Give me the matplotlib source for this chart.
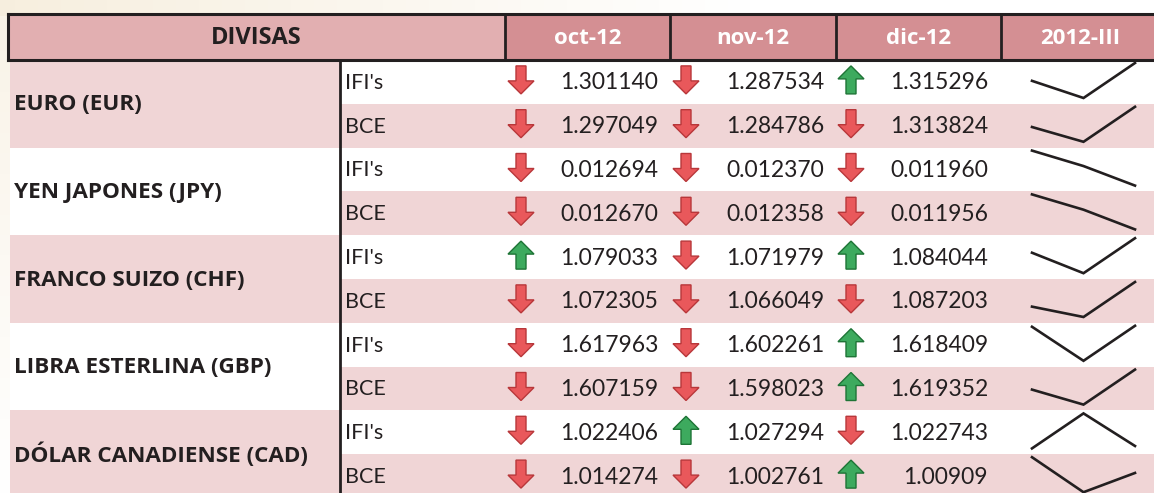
import numpy as np
import matplotlib
matplotlib.use("Agg")
from matplotlib import pyplot as plt
from matplotlib.patches import Rectangle, Polygon

plt.rcParams['font.family'] = ['Lato', 'DejaVu Sans']
bold_font = ['Open Sans', 'DejaVu Sans']

# data
currencies = ["EURO (EUR)", "YEN JAPONES (JPY)", "FRANCO SUIZO (CHF)",
              "LIBRA ESTERLINA (GBP)", "DÓLAR CANADIENSE (CAD)"]
sources = ["IFI's", "BCE"]
months = ["oct-12", "nov-12", "dic-12"]
period = "2012-III"

values = [
    ["1.301140", "1.287534", "1.315296"],
    ["1.297049", "1.284786", "1.313824"],
    ["0.012694", "0.012370", "0.011960"],
    ["0.012670", "0.012358", "0.011956"],
    ["1.079033", "1.071979", "1.084044"],
    ["1.072305", "1.066049", "1.087203"],
    ["1.617963", "1.602261", "1.618409"],
    ["1.607159", "1.598023", "1.619352"],
    ["1.022406", "1.027294", "1.022743"],
    ["1.014274", "1.002761", "1.00909"],
]
# 1 = up (green), -1 = down (red)
trend = [
    [-1, -1, 1],
    [-1, -1, -1],
    [-1, -1, -1],
    [-1, -1, -1],
    [1, -1, 1],
    [-1, -1, -1],
    [-1, -1, 1],
    [-1, -1, 1],
    [-1, 1, -1],
    [-1, -1, 1],
]

# colours
pink_light = "#F0D5D6"
pink_head = "#E2AFB1"
pink_month = "#D48F93"
dark = "#231F20"

W, H = 1154, 493
fig = plt.figure(figsize=(W / 100, H / 100), dpi=100)
ax = fig.add_axes([0, 0, 1, 1])
ax.set_xlim(0, W)
ax.set_ylim(H, 0)
ax.axis('off')

# faint beige background at the top-left corner
xx, yy = np.meshgrid(np.arange(W), np.arange(H))
wgt = np.clip(1 - xx / 750.0, 0, 1) * 0.8
wgt = np.maximum(wgt * (yy < 16), np.clip(1 - yy / 500.0, 0, 1) * 0.6 * (xx < 10))
beige = np.array([0.96, 0.92, 0.84])
img = np.ones((H, W, 3)) * (1 - wgt[..., None]) + beige * wgt[..., None]
ax.imshow(img, extent=(0, W, H, 0), zorder=0, aspect='auto')

# layout
x_left, x_src, x_right = 8, 340, 1160
head_top, head_bot = 14, 60
row_h = 43.8
col_edges = [505, 670, 836, 1001]
arrow_x = [521, 686, 851]
num_right = [658, 824, 988]
spark_x = [1032, 1083.5, 1135]

# header
ax.add_patch(Rectangle((x_left, head_top), col_edges[0] - x_left, head_bot - head_top,
                       facecolor=pink_head, edgecolor='none', zorder=1))
ax.add_patch(Rectangle((col_edges[0], head_top), x_right - col_edges[0], head_bot - head_top,
                       facecolor=pink_month, edgecolor='none', zorder=1))
ax.plot([x_left, x_right], [head_top, head_top], color=dark, lw=2.2, zorder=3)
ax.plot([x_left, x_right], [head_bot, head_bot], color=dark, lw=2.2, zorder=3)
ax.plot([x_left, x_left], [head_top, head_bot], color=dark, lw=2.2, zorder=3)
for xe in col_edges:
    ax.plot([xe, xe], [head_top, head_bot], color=dark, lw=2.0, zorder=3)
hy = (head_top + head_bot) / 2 + 1
ax.text((x_left + col_edges[0]) / 2, hy, "DIVISAS", ha='center', va='center',
        fontsize=17, fontweight='bold', family=bold_font, color=dark, zorder=4)
head_labels = months + [period]
for i, lab in enumerate(head_labels):
    xe2 = col_edges[i + 1] if i + 1 < len(col_edges) else W + 6
    ax.text((col_edges[i] + xe2) / 2, hy, lab, ha='center', va='center',
            fontsize=16, fontweight='bold', family=bold_font, color='white', zorder=4)


def draw_arrow(cx, cy, up):
    # block arrow, 26 px wide, 28 px tall
    sw, hw, top, mid = 5, 13, 14, 1
    pts = [(-sw, -top), (sw, -top), (sw, mid), (hw, mid), (0, top), (-hw, mid), (-sw, mid)]
    if up:
        pts = [(x, -y) for x, y in pts]
    face = "#3DAA5E" if up else "#E9585B"
    edge = "#1E7436" if up else "#B8373A"
    ax.add_patch(Polygon([(cx + x, cy + y) for x, y in pts], closed=True,
                         facecolor=face, edgecolor=edge, lw=1.0, zorder=4))


# body rows
n_rows = len(values)
for r in range(n_rows):
    top = head_bot + r * row_h
    cy = top + row_h / 2
    if r % 2 == 1:
        ax.add_patch(Rectangle((x_src, top), x_right - x_src, row_h,
                               facecolor=pink_light, edgecolor='none', zorder=1))
    ax.text(x_src + 5, cy + 1, sources[r % 2], ha='left', va='center',
            fontsize=15.5, color=dark, zorder=4)
    nums = values[r]
    for c in range(len(months)):
        draw_arrow(arrow_x[c], cy - 2, trend[r][c] > 0)
        ax.text(num_right[c], cy + 1, nums[c], ha='right', va='center',
                fontsize=16.5, color=dark, zorder=4)
    # sparkline
    v = np.array([float(s) for s in nums])
    nv = (v - v.min()) / (v.max() - v.min())
    sy = top + 3 + (1 - nv) * 35
    ax.plot(spark_x, sy, color=dark, lw=1.9, zorder=4, solid_joinstyle='miter')

# currency cells
for k, name in enumerate(currencies):
    top = head_bot + 2 * k * row_h
    fc = pink_light if k % 2 == 0 else 'white'
    ax.add_patch(Rectangle((x_left + 2, top), x_src - x_left - 2, 2 * row_h,
                           facecolor=fc, edgecolor='none', zorder=1))
    ax.text(x_left + 6, top + row_h + 1, name, ha='left', va='center',
            fontsize=16.2, fontweight='bold', family=bold_font, color=dark, zorder=4)

ax.plot([x_src, x_src], [head_bot, H + 5], color=dark, lw=2.0, zorder=3)

fig.savefig("out.png", dpi=100)
